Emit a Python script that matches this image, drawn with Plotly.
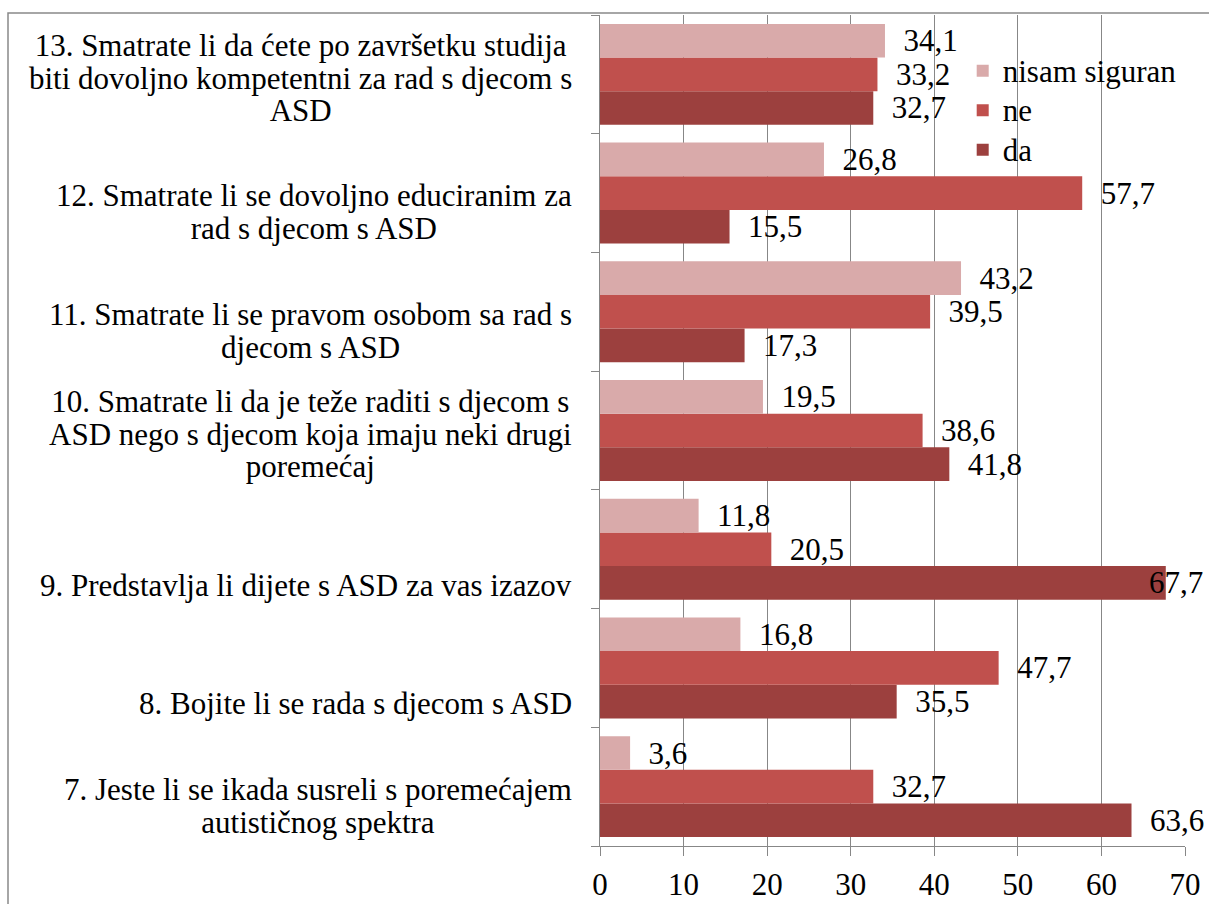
import plotly.graph_objects as go

categories = [
    "7. Jeste li se ikada susreli s poremećajem<br>autističnog spektra",
    "8. Bojite li se rada s djecom s ASD",
    "9. Predstavlja li dijete s ASD za vas izazov",
    "10. Smatrate li da je teže raditi s djecom s<br>ASD nego s djecom koja imaju neki drugi<br>poremećaj",
    "11. Smatrate li se pravom osobom sa rad s<br>djecom s ASD",
    "12. Smatrate li se dovoljno educiranim za<br>rad s djecom s ASD",
    "13. Smatrate li da ćete po završetku studija<br>biti dovoljno kompetentni za rad s djecom s<br>ASD",
]
da = [63.6, 35.5, 67.7, 41.8, 17.3, 15.5, 32.7]
ne = [32.7, 47.7, 20.5, 38.6, 39.5, 57.7, 33.2]
nisam = [3.6, 16.8, 11.8, 19.5, 43.2, 26.8, 34.1]
x_ticks = [0, 10, 20, 30, 40, 50, 60, 70]
series_names = ["da", "ne", "nisam siguran"]
series_colors = ["#9C403E", "#C0504D", "#D9AAAA"]

FONT = "Liberation Serif, Times New Roman, serif"
FS = 31
BARGAP = 0.15
OVERFLOW = 66  # labels beyond this value are pulled back inside the chart area

def fmt(v):
    return f"{v:.1f}".replace(".", ",")

fig = go.Figure()
n_series = len(series_names)
for i, (name, vals, col) in enumerate(zip(series_names, [da, ne, nisam], series_colors)):
    fig.add_trace(go.Bar(
        y=categories, x=vals, name=f'<span style="font-size:{FS}px">{name}</span>',
        orientation="h",
        marker=dict(color=col, line=dict(width=0)),
        text=[("\u2002" + fmt(v)) if v < OVERFLOW else "" for v in vals],
        textposition="outside", cliponaxis=False, constraintext="none",
        textfont=dict(family=FONT, size=FS, color="black"),
        legendgroup=name,
    ))
    # labels that would spill past the chart edge
    slot = (1 - BARGAP) / n_series
    for idx, v in enumerate(vals):
        if v >= OVERFLOW:
            fig.add_annotation(
                xref="paper", yref="y", x=1, y=idx + (i - (n_series - 1) / 2) * slot,
                xanchor="right", yanchor="middle", xshift=20,
                text=fmt(v), showarrow=False,
                font=dict(family=FONT, size=FS, color="black"),
            )

# category labels, centered lines, bottom-aligned in each band
for idx, cat in enumerate(categories):
    lines = cat.split("<br>")
    txt = "<br>".join(f'<span style="font-size:{FS}px">{l}</span>' for l in lines)
    fig.add_annotation(
        xref="paper", yref="y", x=0, y=idx - 0.5, xanchor="right", yanchor="bottom",
        xshift=-26, yshift=4, text=txt, showarrow=False, align="center",
        font=dict(family=FONT, size=25, color="black"),
    )

fig.update_layout(
    width=1209, height=904,
    margin=dict(l=600, r=24, t=15, b=58, autoexpand=False),
    paper_bgcolor="white", plot_bgcolor="white",
    barmode="group", bargap=BARGAP, bargroupgap=0,
    font=dict(family=FONT, size=FS, color="black"),
    showlegend=True,
    legend=dict(
        x=0.62, y=0.9625, xanchor="left", yanchor="top",
        traceorder="reversed", bgcolor="rgba(0,0,0,0)",
        font=dict(family=FONT, size=28, color="black"),
        tracegroupgap=0,
    ),
    xaxis=dict(
        range=[0, 70], tickvals=x_ticks, ticktext=[str(t) for t in x_ticks],
        showgrid=True, gridcolor="#878787", gridwidth=1,
        showline=True, linecolor="#878787", linewidth=1,
        ticks="outside", ticklen=9, tickcolor="#878787",
        ticklabelstandoff=2, automargin=False,
        tickfont=dict(family=FONT, size=FS, color="black"),
        zeroline=False, fixedrange=True,
    ),
    yaxis=dict(
        type="category", categoryorder="array", categoryarray=categories,
        showticklabels=False, showgrid=False, automargin=False,
        showline=True, linecolor="#878787", linewidth=1,
        ticks="outside", ticklen=8, tickcolor="#878787", tickson="boundaries",
        zeroline=False, fixedrange=True,
    ),
    shapes=[dict(
        type="rect", xref="paper", yref="paper",
        x0=(8 - 600) / 585, x1=(1230 - 600) / 585,
        y0=-0.2, y1=1 + 2 / 831,
        line=dict(color="#898989", width=1.5), fillcolor="rgba(0,0,0,0)", layer="below",
    )],
)

fig.write_html(
    "out.html",
    config={"displayModeBar": False},
    post_script="document.body.style.margin='0';document.body.style.overflow='hidden';",
)
